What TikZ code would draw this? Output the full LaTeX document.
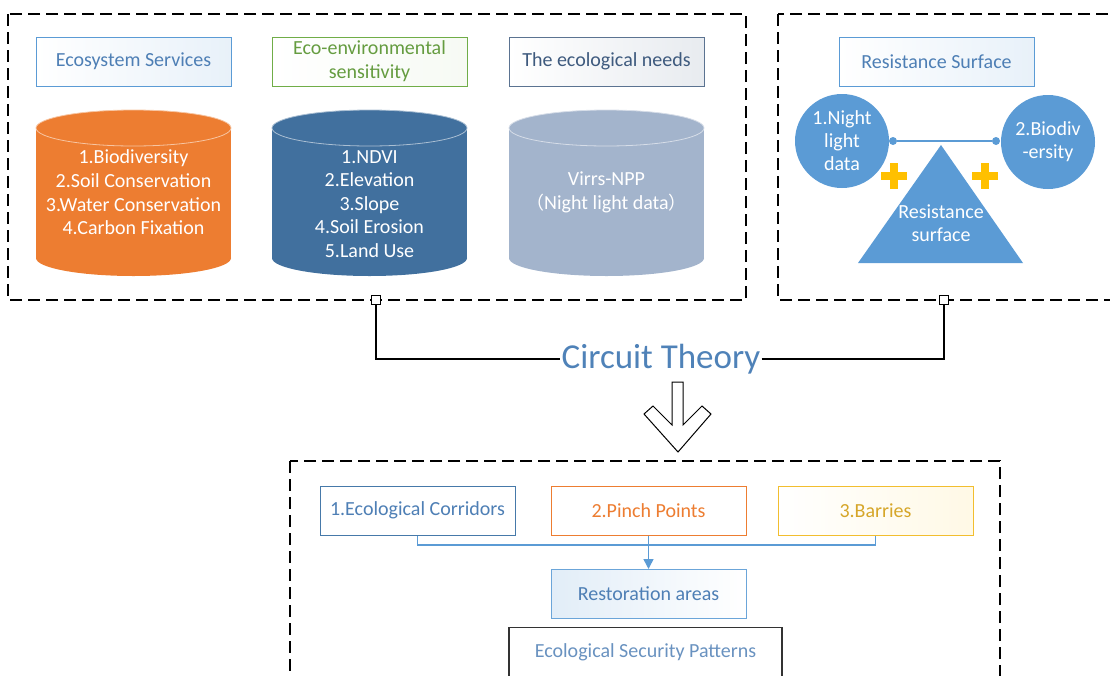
\documentclass[tikz,border=0pt]{standalone}
\usepackage{fontspec}
\setmainfont{Carlito}
\newfontfamily\cjkfont{Noto Sans CJK SC}
\usetikzlibrary{arrows.meta}

\definecolor{skyb}{HTML}{5B9BD5}
\definecolor{txtb}{HTML}{4E7FB5}
\definecolor{orng}{HTML}{ED7D31}
\definecolor{deepb}{HTML}{41709E}
\definecolor{greyb}{HTML}{A3B4CC}
\definecolor{leaf}{HTML}{70AD47}
\definecolor{slate}{HTML}{3E5A7E}
\definecolor{gold}{HTML}{F2BE2F}
\definecolor{goldtxt}{HTML}{D6A629}
\definecolor{plusy}{HTML}{FFC000}

\tikzset{
  dashbox/.style={draw=black, line width=1.6pt, dash pattern=on 12pt off 6pt},
  hdr/.style={draw=skyb, line width=1pt, minimum width=195pt, minimum height=49pt,
    inner sep=0pt, align=center, text=txtb, left color=white, right color=skyb!14,
    font=\fontsize{20}{24}\selectfont},
  cyltext/.style={text=white, align=center, font=\fontsize{20}{23.6}\selectfont},
  disc/.style={circle, fill=skyb, minimum size=94pt, inner sep=0pt, text=white,
    align=center, font=\fontsize{20}{23}\selectfont},
  dot/.style={circle, fill=skyb, minimum size=8pt, inner sep=0pt},
  tab/.style={draw=black, fill=white, line width=1pt, minimum size=9pt, inner sep=0pt},
  wire/.style={draw=black, line width=1.4pt},
  feed/.style={draw=skyb, line width=1.5pt},
}

\newcommand{\drumshape}[4]{% #1 colour, #2 centre x, #3 top y, #4 bottom y
  \fill[#1] (#2-97.5,#3) rectangle (#2+97.5,#4);
  \fill[#1] (#2,#4) ellipse [x radius=97.5pt, y radius=18pt];
  \fill[#1] (#2,#3) ellipse [x radius=97.5pt, y radius=18pt];
  \draw[white!55!#1, line width=0.8pt] (#2,#3) ellipse [x radius=97.5pt, y radius=18pt];
}

\begin{document}
\begin{tikzpicture}[x=1pt, y=-1pt]
\useasboundingbox (0,0) rectangle (1110,675);
\clip (0,0) rectangle (1110,675);

% dashed frames
\draw[dashbox] (8,14) rectangle (746,300);
\draw[dashbox] (778,14) rectangle (1125,300);
\draw[dashbox] (290,461) rectangle (1000,700);

% ---- data sources ----
\node[hdr] (es) at (133.5,61.5) {Ecosystem Services};
\node[hdr, draw=leaf, text=leaf!90!black, right color=leaf!6] (ees) at (369.5,61.5)
  {Eco-environmental\\sensitivity};
\node[hdr, draw=slate!85, text=slate, right color=slate!12] (need) at (606.5,61.5)
  {The ecological needs};

\drumshape{orng}{133.5}{128}{258}
\drumshape{deepb}{369.5}{128}{258}
\drumshape{greyb}{606.5}{128}{258}

\node[cyltext] (esl) at (133.5,192.5)
  {1.Biodiversity\\2.Soil Conservation\\3.Water Conservation\\4.Carbon Fixation};
\node[cyltext] (eesl) at (369.5,204)
  {1.NDVI\\2.Elevation\\3.Slope\\4.Soil Erosion\\5.Land Use};
\node[cyltext] (needl) at (606.5,192.5)
  {Virrs-NPP\\{\cjkfont\fontsize{18}{23.6}\selectfont （}Night light data{\cjkfont\fontsize{18}{23.6}\selectfont ）}};

% ---- resistance surface ----
\node[hdr] (rs) at (936.5,61.5) {Resistance Surface};
\fill[skyb] (941,145) -- (1023,263) -- (858,263) -- cycle;
\node[cyltext, font=\fontsize{20}{23}\selectfont] (tri) at (941,223.5) {Resistance\\surface};
\node[disc] (nl) at (842,141) {1.Night\\light\\data};
\node[disc] (bd) at (1048,142) {2.Biodiv\\-ersity};
\node[dot] (dl) at (893,141) {};
\node[dot] (dr) at (996,141) {};
\draw[skyb, line width=1.5pt] (dl) -- (dr);
\foreach \px in {894,985}{
  \fill[plusy] (\px-13,172) rectangle (\px+13,180);
  \fill[plusy] (\px-4,163) rectangle (\px+4,189);
}

% ---- circuit theory link ----
\node[tab] (tl) at (376,300) {};
\node[tab] (tr) at (944,300) {};
\node[text=txtb!90!skyb, font=\fontsize{35}{40}\selectfont, inner sep=1pt] (ct) at (661,359) {Circuit Theory};
\coordinate (cl) at (376,359);
\coordinate (cr) at (944,359);
\draw[wire] (tl.south) -- (cl) -- (cl -| ct.west);
\draw[wire] (ct.east |- cr) -- (cr) -- (tr.south);

% hollow arrow
\draw[black, line width=1pt, fill=white, line join=miter]
  (672,382) -- (672,425) -- (653,406) -- (644,414) -- (678,452)
  -- (711,414) -- (702,406) -- (683,425) -- (683,382) -- cycle;

% ---- outputs ----
\node[hdr, draw=deepb!80!skyb, left color=white, right color=white] (ec) at (417.5,510.5) {1.Ecological Corridors};
\node[hdr, draw=orng, text=orng, left color=white, right color=white] (pp) at (648.5,510.5) {2.Pinch Points};
\node[hdr, draw=gold, text=goldtxt, left color=white, right color=plusy!10] (ba) at (875.5,510.5) {3.Barries};
\node[hdr, draw=skyb!90, left color=skyb!18, right color=white] (ra) at (648.5,594) {Restoration areas};
\node[hdr, draw=black!80, line width=1.3pt, left color=white, right color=white,
  minimum width=273pt, minimum height=60pt, text=txtb!80!white, anchor=north,
  text depth=0pt] (esp) at (645.5,627) {};
\node[text=txtb!85!white, font=\fontsize{20}{24}\selectfont] (espl) at (645.5,652) {Ecological Security Patterns};

\coordinate (jn) at (648.5,545);
\draw[feed] (ec.south) -- (ec.south |- jn) -- (ba.south |- jn) -- (ba.south);
\draw[feed, -{Triangle[length=10pt, width=10pt]}] (pp.south) -- (ra.north);
\end{tikzpicture}
\end{document}
